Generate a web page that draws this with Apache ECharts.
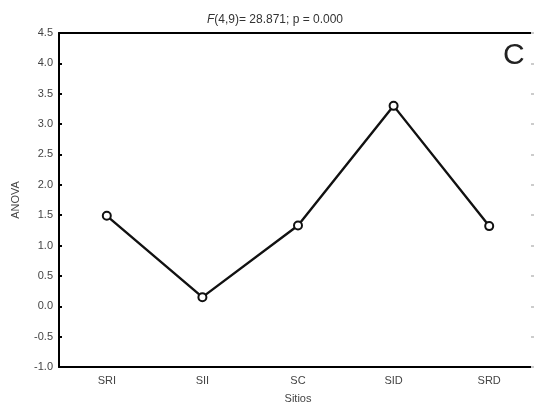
<!DOCTYPE html>
<html>
<head>
<meta charset="utf-8">
<script src="https://cdn.jsdelivr.net/npm/echarts@6/dist/echarts.min.js"></script>
<style>
    html, body { margin: 0; padding: 0; background: #fff; }
    #chart { width: 534px; height: 410px; }
</style>
</head>
<body>
<div id="chart"></div>
<script>
// 数据
const sitios = ["SRI", "SII", "SC", "SID", "SRD"];
const anova = [1.49, 0.15, 1.33, 3.30, 1.32];
const yTicks = [-1.0, -0.5, 0.0, 0.5, 1.0, 1.5, 2.0, 2.5, 3.0, 3.5, 4.0, 4.5];

(function () {
    let chart = echarts.init(document.querySelector("#chart"));
    const font = "Liberation Sans, Arial, sans-serif";
    const lineStyle = { color: "#000", width: 2 };

    let option = {
        animation: false,
        title: {
            text: "{i|F}(4,9)= 28.871; p = 0.000",
            left: 270,
            textAlign: "center",
            top: 9,
            textStyle: {
                fontFamily: font,
                fontSize: 12,
                fontWeight: "normal",
                color: "#333",
                rich: {
                    i: { fontStyle: "italic", fontFamily: font, fontSize: 12, color: "#333" }
                }
            }
        },
        graphic: [{
            type: "text",
            left: 503,
            top: 41,
            style: { text: "C", font: "30px " + font, fill: "#222" }
        }],
        // 右边框在画布外
        grid: { left: 59, top: 33, width: 478, bottom: 43, outerBoundsMode: "none" },
        xAxis: [{
            type: "category",
            data: sitios,
            boundaryGap: true,
            name: "Sitios",
            nameLocation: "middle",
            nameGap: 26,
            nameTextStyle: { fontFamily: font, fontSize: 11, color: "#444" },
            axisLine: { onZero: false, lineStyle: lineStyle },
            axisTick: { alignWithLabel: true, inside: true, length: 4, lineStyle: { color: "#000", width: 2 } },
            axisLabel: { fontFamily: font, fontSize: 11, color: "#444", margin: 8 },
            splitLine: { show: false }
        }, {
            type: "category",
            data: sitios,
            position: "top",
            boundaryGap: true,
            axisLine: { onZero: false, lineStyle: lineStyle },
            axisTick: { alignWithLabel: true, inside: true, length: 4, lineStyle: { color: "#000", width: 2 } },
            axisLabel: { show: false },
            splitLine: { show: false }
        }],
        yAxis: [{
            type: "value",
            min: -1,
            max: 4.5,
            interval: 0.5,
            name: "ANOVA",
            nameLocation: "middle",
            nameGap: 38,
            nameTextStyle: { fontFamily: font, fontSize: 11, color: "#444" },
            axisLine: { show: true, onZero: false, lineStyle: lineStyle },
            axisTick: { show: true, inside: true, length: 3, lineStyle: { color: "#000", width: 2 } },
            axisLabel: {
                fontFamily: font, fontSize: 11, color: "#444", margin: 6,
                formatter: v => yTicks.includes(v) ? v.toFixed(1) : ""
            },
            splitLine: { show: false }
        }, {
            type: "value",
            min: -1,
            max: 4.5,
            interval: 0.5,
            position: "right",
            axisLine: { show: true, onZero: false, lineStyle: lineStyle },
            axisTick: { show: true, inside: true, length: 6, lineStyle: { color: "#ccc", width: 2 } },
            axisLabel: { show: false },
            splitLine: { show: false }
        }],
        series: [{
            type: "line",
            data: anova,
            symbol: "emptyCircle",
            symbolSize: 8,
            lineStyle: { color: "#111", width: 2.4 },
            itemStyle: { color: "#111", borderColor: "#111", borderWidth: 2 }
        }]
    };

    chart.setOption(option);
})();
</script>
</body>
</html>
